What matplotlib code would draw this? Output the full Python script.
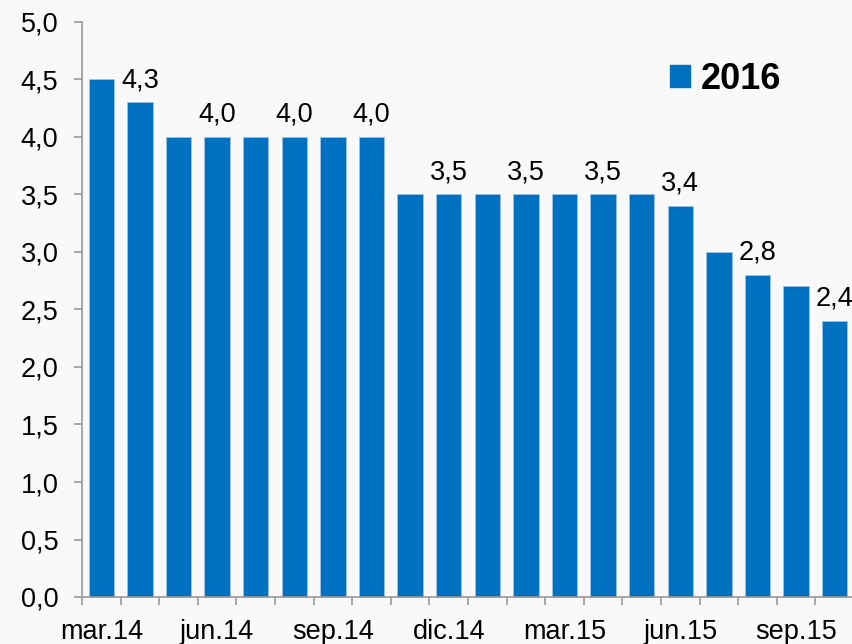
import numpy as np
import matplotlib.pyplot as plt
from matplotlib.patches import Patch

months = ["mar.14", "abr.14", "may.14", "jun.14", "jul.14", "ago.14", "sep.14", "oct.14",
          "nov.14", "dic.14", "ene.15", "feb.15", "mar.15", "abr.15", "may.15", "jun.15",
          "jul.15", "ago.15", "sep.15", "oct.15"]
vals = [4.5, 4.3, 4.0, 4.0, 4.0, 4.0, 4.0, 4.0, 3.5, 3.5, 3.5, 3.5, 3.5, 3.5, 3.5, 3.4,
        3.0, 2.8, 2.7, 2.4]
shown_labels = [1, 3, 5, 7, 9, 11, 13, 15, 17, 19]   # bars with a value on top
tick_every = 3

plt.rcParams['font.family'] = ['Liberation Sans', 'DejaVu Sans']
bg = '#f9f9f9'
blue = '#0070c0'

fig = plt.figure(figsize=(8.52, 6.44), dpi=100, facecolor=bg)
ax = fig.add_axes([82/852, 47/644, 772/852, 575/644], facecolor=bg)

x = np.arange(len(vals))
ax.bar(x, vals, width=0.66, color=blue, edgecolor='#9cc3e6', linewidth=0.6, clip_on=False)

for i in shown_labels:
    ax.annotate(f"{vals[i]:.1f}".replace('.', ','), (x[i], vals[i]), xytext=(0, 11),
                textcoords='offset points', ha='center', va='baseline', fontsize=19.5,
                annotation_clip=False)

ax.set_xlim(-0.5, len(vals) - 0.5)
ax.set_ylim(0, 5)
yt = np.arange(0, 5.01, 0.5)
ax.set_yticks(yt)
ax.set_yticklabels([f"{v:.1f}".replace('.', ',') for v in yt], fontsize=19.5)
ax.set_xticks(x[::tick_every])
ax.set_xticklabels(months[::tick_every], fontsize=19.5)
ax.set_xticks(np.arange(-0.5, len(vals)), minor=True)
ax.tick_params(axis='x', which='major', length=0, pad=16)
ax.tick_params(axis='x', which='minor', length=6, color='#999999', width=1.2)
ax.tick_params(axis='y', length=6, color='#999999', width=1.2, pad=11)

for s in ['top', 'right']:
    ax.spines[s].set_visible(False)
for s in ['left', 'bottom']:
    ax.spines[s].set_color('#999999')
    ax.spines[s].set_linewidth(1.2)

leg = ax.legend(handles=[Patch(color=blue, label='2016')], loc='center left',
                bbox_to_anchor=(0.72, 0.9), frameon=False, handlelength=0.55, handleheight=0.55,
                handletextpad=0.3, prop={'size': 26, 'weight': 'bold'})

fig.savefig('out.png', dpi=100, facecolor=bg)
